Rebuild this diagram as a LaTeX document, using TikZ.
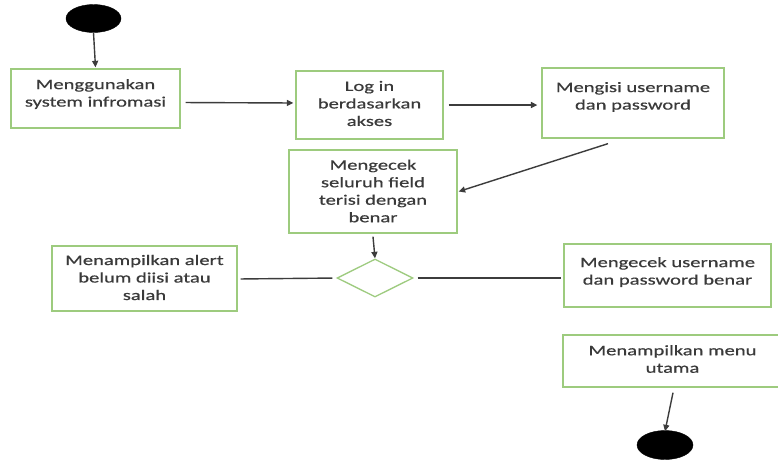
\documentclass[tikz,border=0pt]{standalone}
\usepackage{fontspec}
\setmainfont{Carlito}[FakeStretch=1.42,FakeBold=0.5]
\usetikzlibrary{shapes.geometric,arrows.meta,calc}
\definecolor{boxgreen}{HTML}{9DCB7E}
\definecolor{linegray}{HTML}{3C3C3C}
\definecolor{txtgray}{HTML}{3A3A3A}
\tikzset{
  actbox/.style={draw=boxgreen,line width=1.3pt,fill=white,inner sep=0pt},
  txt/.style={text=txtgray,align=center,inner sep=0pt,font=\fontsize{14.5}{17.5}\selectfont},
  flow/.style={draw=linegray,line width=1.4pt,-{Triangle[length=6.5pt,width=6pt]}},
  plainline/.style={draw=linegray,line width=1.4pt},
  blob/.style={ellipse,fill=black,draw=black,inner sep=0pt}
}
\begin{document}
\begin{tikzpicture}[x=1pt,y=-1pt]
\useasboundingbox (0,0) rectangle (778,459);
\clip (0,0) rectangle (778,459);
\fill[white] (0,0) rectangle (778,459);
% start
\node[blob,minimum width=55pt,minimum height=28pt] (start) at (93.5,18.5) {};
% boxes
\node[actbox,minimum width=169pt,minimum height=59pt] (b1) at (95.5,98.5) {};
\node[txt] (t1) at (95.5,94) {Menggunakan\\system infromasi};
\node[actbox,minimum width=147pt,minimum height=68pt] (b2) at (369.5,105) {};
\node[txt] (t2) at (369.5,103.5) {Log in\\berdasarkan\\akses};
\node[actbox,minimum width=182pt,minimum height=70pt] (b3) at (633,103) {};
\node[txt] (t3) at (633,97) {Mengisi username\\dan password};
\node[actbox,minimum width=168pt,minimum height=83pt] (b4) at (373,191.5) {};
\node[txt] (t4) at (373,191) {Mengecek\\seluruh field\\terisi dengan\\benar};
\node[diamond,draw=boxgreen,line width=1.3pt,minimum width=76pt,minimum height=38pt,inner sep=0pt,aspect=2] (dec) at (375,278) {};
\node[actbox,minimum width=185pt,minimum height=65pt] (b5) at (144.5,278.5) {};
\node[txt] (t5) at (144.5,277.5) {Menampilkan alert\\belum diisi atau\\salah};
\node[actbox,minimum width=207pt,minimum height=63pt] (b6) at (667.5,275.5) {};
\node[txt] (t6) at (667.5,272) {Mengecek username\\dan password benar};
\node[actbox,minimum width=219pt,minimum height=52pt] (b7) at (672.5,361) {};
\node[txt] (t7) at (672.5,359) {Menampilkan menu\\utama};
% end
\node[blob,minimum width=56pt,minimum height=29pt] (stop) at (665,445) {};
% connectors
\draw[flow] (start.south) -- ([yshift=1pt]b1.north);
\draw[flow,shorten <=5pt,shorten >=2pt] ([yshift=-4pt]b1.east) -- ([yshift=2pt]b2.west);
\draw[flow,shorten <=5pt,shorten >=4pt] (b2.east) -- ([yshift=-2pt]b3.west);
\draw[flow] ([xshift=-25pt,yshift=-5pt]b3.south) -- ([xshift=1pt]b4.east);
\draw[flow] ([yshift=-3pt]b4.south) -- (dec.north);
\draw[plainline,shorten <=4pt,shorten >=3pt] (dec.west) -- ([yshift=-0.5pt]b5.east);
\draw[plainline,shorten <=4pt,shorten >=2pt] (dec.east) -- ([yshift=-2.5pt]b6.west);
\draw[flow] ([xshift=0.5pt,yshift=-5pt]b7.south) -- ([yshift=-1pt]stop.north);
\end{tikzpicture}
\end{document}
